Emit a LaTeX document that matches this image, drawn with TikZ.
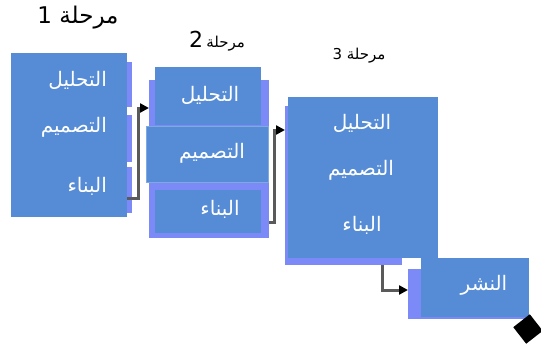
\documentclass[tikz,border=0pt]{standalone}
\usepackage{fontspec}
\usetikzlibrary{arrows.meta}
\TeXXeTstate=1
\newfontfamily\ar[Script=Arabic]{DejaVu Sans}
\definecolor{boxblue}{HTML}{558CD5}
\definecolor{lav}{HTML}{7C8AF8}
\definecolor{conn}{HTML}{5A5A5A}
\tikzset{
  bluebox/.style={fill=boxblue, draw=none, inner sep=0pt, anchor=north west},
  lavbox/.style={fill=lav, draw=none, inner sep=0pt, anchor=north west},
  lbl/.style={text=white, inner sep=0pt, font=\ar\fontsize{20}{24}\selectfont},
  ttl/.style={text=black, inner sep=0pt},
  conline/.style={draw=conn, line width=3pt, -{Triangle[length=9pt,width=9pt,black]}},
}
\begin{document}
\begin{tikzpicture}[x=1pt,y=-1pt]
\useasboundingbox (0,0) rectangle (541,351);
% stage 1
\node[lavbox, minimum width=112pt, minimum height=45pt] (l1a) at (20,62) {};
\node[lavbox, minimum width=112pt, minimum height=47pt] (l1b) at (20,115) {};
\node[lavbox, minimum width=112pt, minimum height=46pt] (l1c) at (20,167) {};
\node[bluebox, minimum width=116pt, minimum height=164pt] (s1) at (11,53) {};
\node[lbl, anchor=east] (a1) at (107,80) {\beginR التحليل\endR};
\node[lbl, anchor=east] (d1) at (107,127) {\beginR التصميم\endR};
\node[lbl, anchor=east] (b1) at (107,186) {\beginR البناء\endR};
% stage 2
\node[lavbox, minimum width=120pt, minimum height=158pt] (l2) at (149,80) {};
\node[bluebox, minimum width=106pt, minimum height=58pt] (s2a) at (155,67) {};
\node[bluebox, minimum width=106pt, minimum height=43pt] (s2c) at (155,190) {};
\node[bluebox, minimum width=122pt, minimum height=56pt, draw=boxblue!75!white, line width=0.5pt] (s2b) at (146,126) {};
\node[lbl] (a2) at (210,95) {\beginR التحليل\endR};
\node[lbl] (d2) at (212,153) {\beginR التصميم\endR};
\node[lbl] (b2) at (220,209) {\beginR البناء\endR};
% stage 3
\node[lavbox, minimum width=117pt, minimum height=159pt] (l3) at (285,106) {};
\node[bluebox, minimum width=150pt, minimum height=161pt] (s3) at (288,97) {};
\node[lbl] (a3) at (362,123) {\beginR التحليل\endR};
\node[lbl] (d3) at (361,170) {\beginR التصميم\endR};
\node[lbl] (b3) at (362,225) {\beginR البناء\endR};
% stage 4
\node[lavbox, minimum width=121pt, minimum height=50pt] (l4) at (408,269) {};
\node[bluebox, minimum width=108pt, minimum height=59pt] (s4) at (421,258) {};
\node[lbl] (n4) at (484,285) {\beginR النشر\endR};
% diamond
\node[fill=black, minimum size=21pt, inner sep=0pt, rotate=38] (dm) at (528,329) {};
% titles
\node[ttl, font=\ar\fontsize{23}{26}\selectfont] (t1) at (78,18) {\beginR مرحلة 1\endR};
\node[ttl, anchor=base] (t2) at (217,47) {\ar\beginR{\fontsize{15}{18}\selectfont مرحلة} {\fontsize{22}{24}\selectfont 2}\endR};
\node[ttl, anchor=base, font=\ar\fontsize{15}{18}\selectfont] (t3) at (359,59) {\beginR مرحلة 3\endR};
% connectors
\coordinate (c1s) at (s1.east |- 0,198);
\coordinate (c1e) at (l2.west |- 0,108);
\draw[conline] (c1s) -- (138,198) -- (138,108) -- (c1e);
\coordinate (c2s) at (l2.east |- 0,222);
\coordinate (c2e) at (l3.west |- 0,130);
\draw[conline] (c2s) -- (274,222) -- (274,130) -- (c2e);
\coordinate (c3s) at (l3.south -| 382,0);
\coordinate (c3e) at (l4.west |- 0,290);
\draw[conline] (c3s) -- (382,290) -- (c3e);
\end{tikzpicture}
\end{document}
